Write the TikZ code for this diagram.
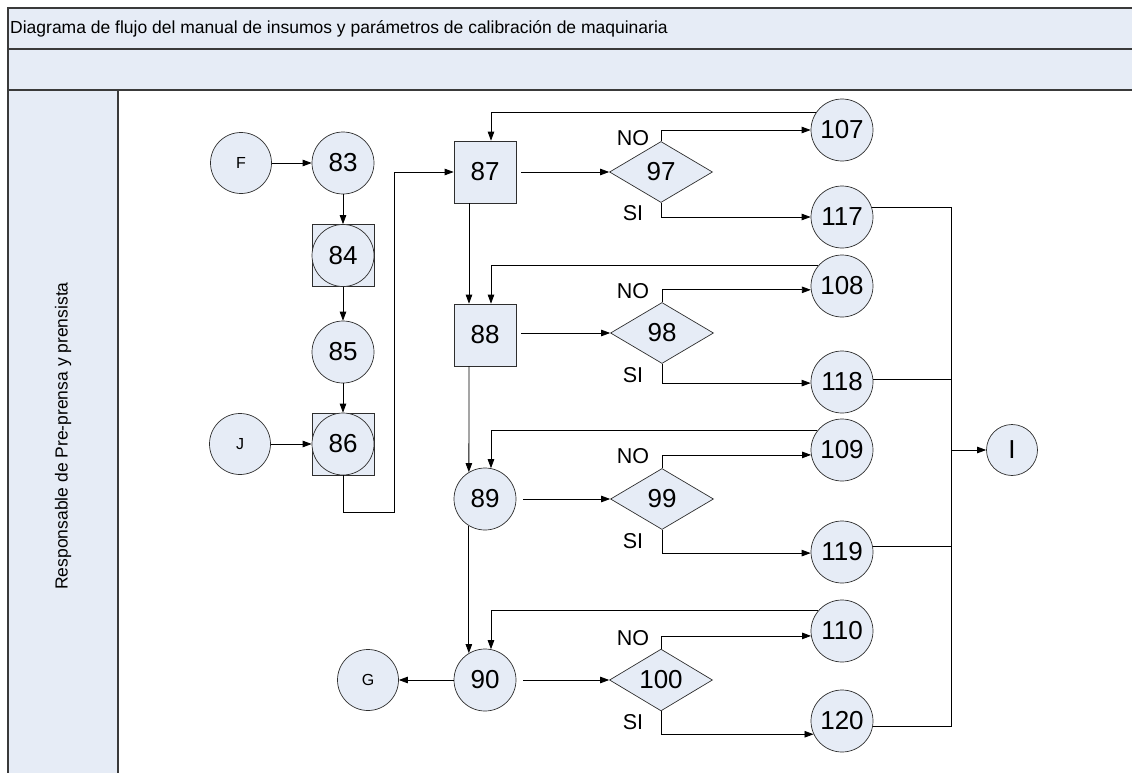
\documentclass[tikz,border=0pt]{standalone}
\usepackage{fontspec}
\setmainfont{Liberation Sans}
\usetikzlibrary{shapes.geometric,arrows.meta,calc}
\definecolor{boxfill}{HTML}{E6ECF6}
\definecolor{framegray}{HTML}{3A3A3A}
\definecolor{edgegray}{HTML}{2E2E2E}
\begin{document}
\begin{tikzpicture}[x=1pt,y=-1pt,
  circ/.style={circle,draw=edgegray,fill=boxfill,line width=0.7pt,minimum size=62pt,inner sep=0pt,font=\fontsize{26}{26}\selectfont},
  letter/.style={circ,minimum size=61pt,font=\fontsize{16}{16}\selectfont},
  stepbox/.style={rectangle,draw=edgegray,fill=boxfill,line width=0.7pt,minimum size=62pt,inner sep=0pt,font=\fontsize{26}{26}\selectfont},
  decision/.style={diamond,draw=edgegray,fill=boxfill,line width=0.7pt,minimum width=103pt,minimum height=61pt,inner sep=0pt,font=\fontsize{26}{26}\selectfont},
  flow/.style={draw=black,line width=0.8pt,-{Triangle[length=9pt,width=6.5pt]}},
  link/.style={draw=black,line width=0.8pt},
  ans/.style={font=\fontsize{21.5}{21.5}\selectfont,inner sep=0pt},
  lane/.style={draw=framegray,line width=1.6pt}
]
\useasboundingbox (0,0) rectangle (1132,773);

% swimlane frame
\fill[boxfill] (8,8) rectangle (1132,90);
\fill[boxfill] (8,90) rectangle (118,773);
\draw[lane] (1132,8) -- (8,8) -- (8,773);
\draw[lane] (8,49) -- (1132,49);
\draw[lane] (8,90) -- (1132,90);
\draw[lane] (118,90) -- (118,773);
\node[anchor=west,inner sep=0pt,font=\fontsize{17.5}{17.5}\selectfont] (title) at (10,29)
  {Diagrama de flujo del manual de insumos y parámetros de calibración de maquinaria};
\node[rotate=90,inner sep=0pt,font=\fontsize{17.5}{17.5}\selectfont] (lanelabel) at (63,436)
  {Responsable de Pre-prensa y prensista};

% left column
\node[letter] (F) at (241,163) {F};
\node[circ] (n83) at (343,163) {83};
\node[stepbox] (s84) at (343,255.5) {};
\node[circ] (n84) at (343,255.5) {84};
\node[circ] (n85) at (343,352) {85};
\node[stepbox] (s86) at (343,444) {};
\node[circ] (n86) at (343,444) {86};
\node[letter] (J) at (240,444) {J};

% main column
\node[stepbox] (n87) at (485,172) {87};
\node[stepbox] (n88) at (485,335) {88};
\node[circ] (n89) at (485,499) {89};
\node[circ] (n90) at (485,680) {90};
\node[letter] (G) at (368,680) {G};

% decisions
\node[decision] (d97) at (661,172) {97};
\node[decision] (d98) at (662,333) {98};
\node[decision] (d99) at (662,499) {99};
\node[decision] (d100) at (661,680) {100};
\node[ans] (no97) at (633,138) {NO};
\node[ans] (si97) at (633,213) {SI};
\node[ans] (no98) at (633,291) {NO};
\node[ans] (si98) at (633,375) {SI};
\node[ans] (no99) at (633,456) {NO};
\node[ans] (si99) at (633,541) {SI};
\node[ans] (no100) at (633,638) {NO};
\node[ans] (si100) at (633,722) {SI};

% outcomes
\node[circ] (n107) at (842,130) {107};
\node[circ] (n117) at (842,217) {117};
\node[circ] (n108) at (842,286) {108};
\node[circ] (n118) at (842,382) {118};
\node[circ] (n109) at (842,450) {109};
\node[circ] (n119) at (842,552) {119};
\node[circ] (n110) at (842,631) {110};
\node[circ] (n120) at (842,721) {120};
\node[circ,minimum size=51pt] (nI) at (1012,450) {I};

% left column connectors
\draw[flow] (F) -- (n83);
\draw[flow] (n83) -- (s84);
\draw[flow] (s84) -- (n85);
\draw[flow] (n85) -- (s86);
\draw[flow] (J) -- (s86);
\coordinate (jog) at (394,512);
\draw[flow] (s86.south) |- (jog) |- (n87.west);

% main column connectors
\draw[flow] ($(n87.south)+(-16,0)$) -- ($(n88.north)+(-16,0)$);
\draw[flow] ($(n88.south)+(-16,0)$) -- (n89.121);
\draw[flow] (n89.239) -- (n90.121);
\draw[flow] (n90) -- (G);

% into decisions
\draw[flow,shorten <=5pt] (n87.east) -- (d97.west);
\draw[flow,shorten <=5pt] (n88.east |- d98.west) -- (d98.west);
\draw[flow,shorten <=7pt] (n89.east) -- (d99.west);
\draw[flow,shorten <=7pt] (n90.east) -- (d100.west);

% decision branches
\draw[flow] (d97.north) |- (n107.180);
\draw[flow] (d97.south) |- (n117.180);
\draw[flow] (d98.north) |- (n108.187);
\draw[flow] (d98.south) |- (n118.182);
\draw[flow] (d99.north) |- (n109.189);
\draw[flow] (d99.south) |- (n119.182);
\draw[flow] (d100.north) |- (n110.189);
\draw[flow] (d100.south) |- (n120.205);

% returns
\draw[flow] (n107.146) -| ($(n87.north)+(6,0)$);
\draw[flow] (n108.140) -| ($(n88.north)+(6,0)$);
\draw[flow] (n109.142) -| (n89.79);
\draw[flow] (n110.140) -| (n90.79);

% collector to I
\coordinate (bus) at (951,0);
\draw[link] (n117.17) -- (n117.17 -| bus) -- (n120.351 -| bus) -- (n120.351);
\draw[link] (n118.4) -- (n118.4 -| bus);
\draw[link] (n119.11) -- (n119.11 -| bus);
\draw[flow] (nI.west -| bus) -- (nI.west);
\end{tikzpicture}
\end{document}
